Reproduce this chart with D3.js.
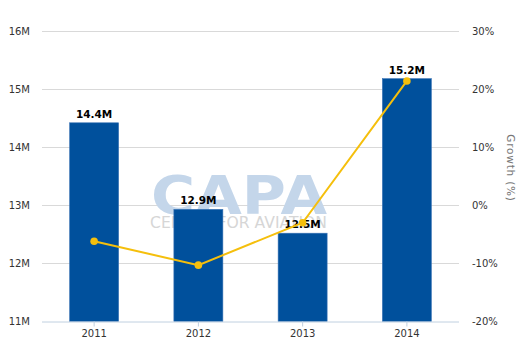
<!DOCTYPE html>
<html>
<head>
<meta charset="utf-8">
<script src="https://cdn.jsdelivr.net/npm/d3@7"></script>
<style>
  body { margin: 0; background: #fff; }
  svg { display: block; }
  text { font-family: Verdana, "DejaVu Sans", sans-serif; }
</style>
</head>
<body>
<script>
// chart data
const years = ["2011", "2012", "2013", "2014"];
const passengers = [14.42, 12.93, 12.52, 15.18];   // millions
const barLabels = ["14.4M", "12.9M", "12.5M", "15.2M"];
const growth = [-6.2, -10.3, -3.0, 21.4];           // percent
const leftTicks = [11, 12, 13, 14, 15, 16];
const rightTicks = [-20, -10, 0, 10, 20, 30];

const W = 530, H = 353;
const mLeft = 42, mRight = 459, mTop = 31, mBottom = 321.5;

const svg = d3.select("body").append("svg")
  .attr("width", W)
  .attr("height", H);

const x = d3.scaleBand().domain(years).range([mLeft, mRight]).paddingInner(0.53).paddingOuter(0.265);
const y = d3.scaleLinear().domain([11, 16]).range([mBottom, mTop]);
const y2 = d3.scaleLinear().domain([-20, 30]).range([mBottom, mTop]);

// grid lines
svg.append("g")
  .selectAll("line")
  .data(leftTicks.slice(1))
  .join("line")
  .attr("x1", mLeft).attr("x2", mRight)
  .attr("y1", d => Math.round(y(d)) + 0.5).attr("y2", d => Math.round(y(d)) + 0.5)
  .attr("stroke", "#d9d9d9");

// watermark
const wm = svg.append("g");
wm.append("text")
  .attr("x", 151).attr("y", 214)
  .attr("font-family", "'Liberation Sans', Arial, sans-serif")
  .attr("font-weight", "bold")
  .attr("font-size", 53)
  .attr("textLength", 176)
  .attr("lengthAdjust", "spacingAndGlyphs")
  .attr("fill", "#c4d6ea")
  .text("CAPA");
wm.append("text")
  .attr("x", 150).attr("y", 228)
  .attr("font-family", "'Liberation Sans', Arial, sans-serif")
  .attr("font-size", 15)
  .attr("textLength", 177)
  .attr("lengthAdjust", "spacingAndGlyphs")
  .attr("fill", "#d6d6d6")
  .text("CENTRE FOR AVIATION");

// bars
svg.append("g")
  .selectAll("rect")
  .data(years)
  .join("rect")
  .attr("x", d => x(d))
  .attr("width", x.bandwidth())
  .attr("y", (d, i) => y(passengers[i]))
  .attr("height", (d, i) => mBottom - y(passengers[i]))
  .attr("fill", "#00509c")
  .attr("stroke", "#3a73b5")
  .attr("stroke-width", 0.6);

// bar labels
svg.append("g")
  .selectAll("text")
  .data(years)
  .join("text")
  .attr("x", d => x(d) + x.bandwidth() / 2)
  .attr("y", (d, i) => y(passengers[i]) - 5)
  .attr("text-anchor", "middle")
  .attr("font-size", 10.5)
  .attr("font-weight", "bold")
  .attr("fill", "#000")
  .text((d, i) => barLabels[i]);

// x axis
const xAxis = svg.append("g")
  .attr("transform", `translate(0,${mBottom})`)
  .call(d3.axisBottom(x).tickSize(5).tickPadding(3));
xAxis.select(".domain").attr("stroke", "#c0d0e0").attr("d", `M${mLeft},0.5H${mRight}`);
xAxis.selectAll(".tick line").attr("stroke", "#c0d0e0");
xAxis.selectAll(".tick text").attr("font-size", 10).attr("fill", "#333")
  .attr("font-family", "Verdana, 'DejaVu Sans', sans-serif");

// left axis
const yAxis = svg.append("g")
  .attr("transform", `translate(${mLeft},0)`)
  .call(d3.axisLeft(y).tickValues(leftTicks).tickFormat(d => d + "M").tickSize(0).tickPadding(12));
yAxis.select(".domain").remove();
yAxis.selectAll(".tick text").attr("font-size", 10).attr("fill", "#333")
  .attr("font-family", "Verdana, 'DejaVu Sans', sans-serif");

// right axis
const y2Axis = svg.append("g")
  .attr("transform", `translate(${mRight},0)`)
  .call(d3.axisRight(y2).tickValues(rightTicks).tickFormat(d => d + "%").tickSize(0).tickPadding(13));
y2Axis.select(".domain").remove();
y2Axis.selectAll(".tick text").attr("font-size", 10).attr("fill", "#333")
  .attr("font-family", "Verdana, 'DejaVu Sans', sans-serif");

svg.append("text")
  .attr("transform", `translate(507,168) rotate(90)`)
  .attr("text-anchor", "middle")
  .attr("font-size", 10.5)
  .attr("letter-spacing", 0.8)
  .attr("fill", "#777")
  .text("Growth (%)");

// growth line
const cx = d => x(d) + x.bandwidth() / 2;
const line = d3.line()
  .x(d => cx(d))
  .y((d, i) => y2(growth[i]));

svg.append("path")
  .datum(years)
  .attr("d", line)
  .attr("fill", "none")
  .attr("stroke", "#f5bf0c")
  .attr("stroke-width", 2);

svg.append("g")
  .selectAll("circle")
  .data(years)
  .join("circle")
  .attr("cx", d => cx(d))
  .attr("cy", (d, i) => y2(growth[i]))
  .attr("r", 3.8)
  .attr("fill", "#f5bf0c");
</script>
</body>
</html>
